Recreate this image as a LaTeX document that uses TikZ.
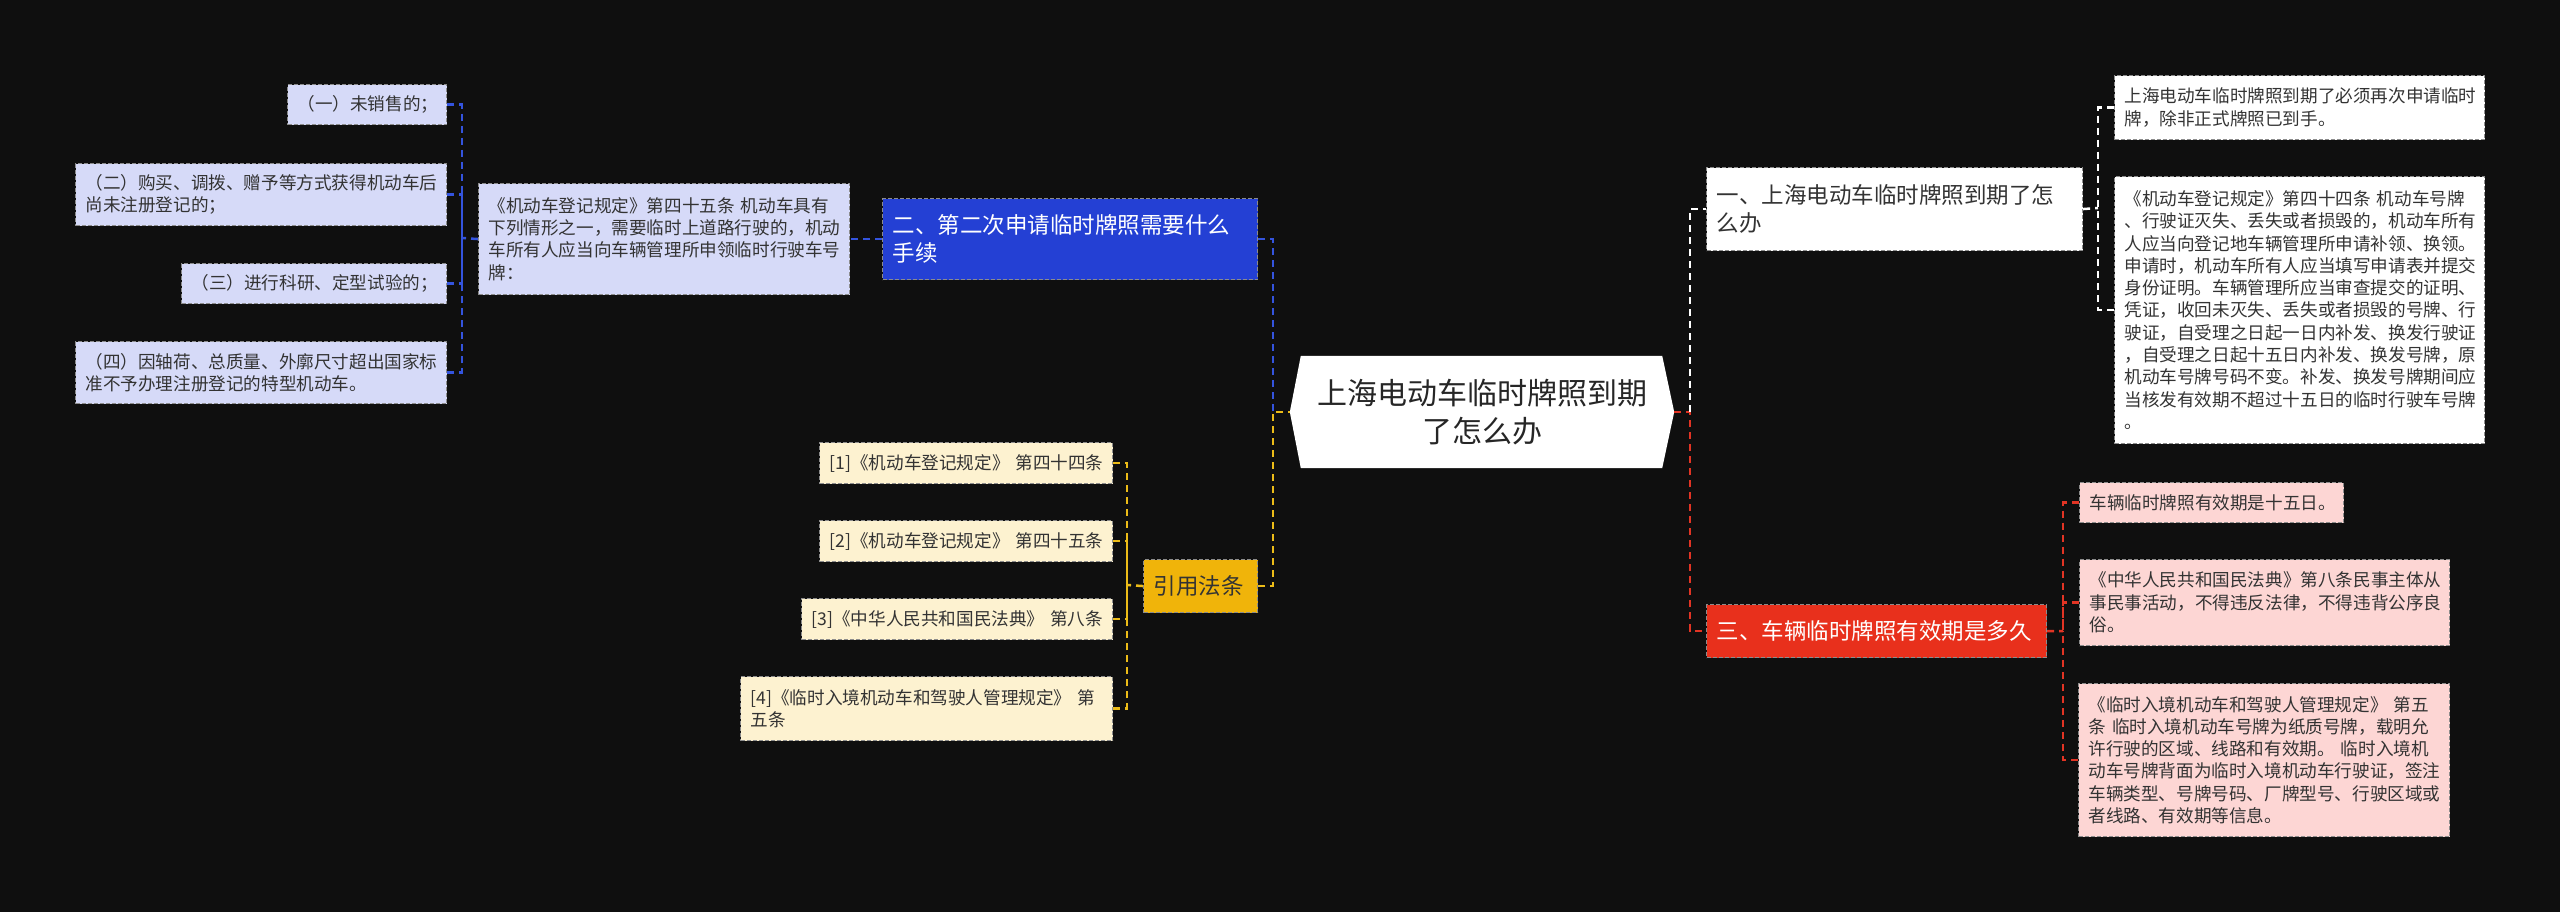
\documentclass[tikz,border=0pt]{standalone}
\usepackage{fontspec}
\setmainfont{Noto Sans CJK SC}
\usetikzlibrary{calc}
\definecolor{bgc}{RGB}{15,15,15}
\definecolor{txt}{RGB}{51,51,51}
\definecolor{mBlue}{RGB}{36,64,212}
\definecolor{lBlue}{RGB}{214,218,248}
\definecolor{kBlue}{RGB}{52,84,222}
\definecolor{mYel}{RGB}{240,180,10}
\definecolor{lYel}{RGB}{253,242,208}
\definecolor{kYel}{RGB}{236,188,24}
\definecolor{mRed}{RGB}{232,48,28}
\definecolor{lRed}{RGB}{253,214,212}
\definecolor{kRed}{RGB}{226,52,36}
\pgfdeclarelayer{canvas}
\pgfdeclarelayer{back}
\pgfsetlayers{canvas,back,main}
\newcommand\boxnode[7]{%
  \pgfmathsetmacro\bw{#5-#3}\pgfmathsetmacro\bh{#6-#4}\pgfmathsetmacro\tw{#5-#3-20}%
  \node[#1, anchor=north west, minimum width=\bw pt, minimum height=\bh pt, text width=\tw pt] (#2) at (#3,#4) {#7};}
\tikzset{
  boxbase/.style={draw=black!45, dash pattern=on 4pt off 2pt, line width=1.1pt, inner xsep=10pt, inner ysep=0pt, align=left},
  leaf/.style={boxbase, text=txt, font=\fontsize{17.6}{22.3}\selectfont},
  mainbox/.style={boxbase, font=\fontsize{22.5}{28.3}\selectfont},
  leafB/.style={leaf, fill=lBlue},
  leafY/.style={leaf, fill=lYel},
  leafR/.style={leaf, fill=lRed},
  leafW/.style={leaf, fill=white},
  mainB/.style={mainbox, fill=mBlue, text=white},
  mainY/.style={mainbox, fill=mYel, text=txt},
  mainR/.style={mainbox, fill=mRed, text=white},
  mainW/.style={mainbox, fill=white, text=txt},
  conn/.style={line width=2.5pt, dash pattern=on 7pt off 5pt},
  cB/.style={conn, draw=kBlue},
  cY/.style={conn, draw=kYel},
  cR/.style={conn, draw=kRed},
  cW/.style={conn, draw=white},
  rootn/.style={minimum width=384pt, minimum height=112pt, inner sep=0pt, align=center, text=black!85, font=\fontsize{30}{38}\selectfont}
}
\begin{document}
\begin{tikzpicture}[x=1pt,y=-1pt]
\begin{pgfonlayer}{canvas}
\fill[bgc] (0,0) rectangle (2560,912);
\end{pgfonlayer}
\useasboundingbox (0,0) rectangle (2560,912);

% root
\node[rootn] (root) at (1482,412) {上海电动车临时牌照到期\\了怎么办};
\begin{pgfonlayer}{back}
\fill[white] (root.west) -- ($(root.north west)+(11,0)$) -- ($(root.north east)+(-12,0)$) -- (root.east) -- ($(root.south east)+(-12,0)$) -- ($(root.south west)+(11,0)$) -- cycle;
\end{pgfonlayer}

% blue branch
\boxnode{mainB}{B}{882}{198}{1257}{279}{二、第二次申请临时牌照需要什么\\手续}
\boxnode{leafB}{b45}{478}{183}{849}{294}{《机动车登记规定》第四十五条~机动车具有\\下列情形之一，需要临时上道路行驶的，机动\\车所有人应当向车辆管理所申领临时行驶车号\\牌：}
\boxnode{leafB}{b1}{287}{84}{446}{124}{（一）未销售的；}
\boxnode{leafB}{b2}{75}{163}{446}{225}{（二）购买、调拨、赠予等方式获得机动车后\\尚未注册登记的；}
\boxnode{leafB}{b3}{181}{263}{446}{303}{（三）进行科研、定型试验的；}
\boxnode{leafB}{b4}{75}{341}{446}{403}{（四）因轴荷、总质量、外廓尺寸超出国家标\\准不予办理注册登记的特型机动车。}

% yellow branch
\boxnode{mainY}{Y}{1143}{559}{1257}{612}{引用法条}
\boxnode{leafY}{y1}{819}{442}{1112}{483}{[1]《机动车登记规定》~第四十四条}
\boxnode{leafY}{y2}{819}{520}{1112}{561}{[2]《机动车登记规定》~第四十五条}
\boxnode{leafY}{y3}{801}{598}{1112}{639}{[3]《中华人民共和国民法典》~第八条}
\boxnode{leafY}{y4}{740}{676}{1112}{740}{[4]《临时入境机动车和驾驶人管理规定》~第\\五条}

% white branch
\boxnode{mainW}{W}{1706}{167}{2082}{250}{一、上海电动车临时牌照到期了怎\\么办}
\boxnode{leafW}{w1}{2114}{75}{2484}{139}{上海电动车临时牌照到期了必须再次申请临时\\牌，除非正式牌照已到手。}
\boxnode{leafW}{w2}{2114}{176}{2484}{443}{《机动车登记规定》第四十四条~机动车号牌\\、行驶证灭失、丢失或者损毁的，机动车所有\\人应当向登记地车辆管理所申请补领、换领。\\申请时，机动车所有人应当填写申请表并提交\\身份证明。车辆管理所应当审查提交的证明、\\凭证，收回未灭失、丢失或者损毁的号牌、行\\驶证，自受理之日起一日内补发、换发行驶证\\，自受理之日起十五日内补发、换发号牌，原\\机动车号牌号码不变。补发、换发号牌期间应\\当核发有效期不超过十五日的临时行驶车号牌\\。}

% red branch
\boxnode{mainR}{R}{1706}{604}{2046}{657}{三、车辆临时牌照有效期是多久}
\boxnode{leafR}{r1}{2079}{482}{2343}{522}{车辆临时牌照有效期是十五日。}
\boxnode{leafR}{r2}{2079}{559}{2449}{645}{《中华人民共和国民法典》第八条民事主体从\\事民事活动，不得违反法律，不得违背公序良\\俗。}
\boxnode{leafR}{r3}{2078}{683}{2449}{836}{《临时入境机动车和驾驶人管理规定》~第五\\条~临时入境机动车号牌为纸质号牌，载明允\\许行驶的区域、线路和有效期。~临时入境机\\动车号牌背面为临时入境机动车行驶证，签注\\车辆类型、号牌号码、厂牌型号、行驶区域或\\者线路、有效期等信息。}

% junctions
\coordinate (jb) at (462,238);
\coordinate (jl) at (1273,412);
\coordinate (jy) at (1127,585);
\coordinate (jr) at (1690,412);
\coordinate (jw) at (2098,208);
\coordinate (jrr) at (2063,631);

% connectors
\begin{pgfonlayer}{back}
\draw[cB] (b1.east) -| (jb);
\draw[cB] (b2.east) -| (jb);
\draw[cB] (b3.east) -| (jb);
\draw[cB] (b4.east) -| (jb);
\draw[cB] (b45.west) -- (jb);
\draw[cB] (B.west) -- (b45.east);
\draw[cB] (B.east) -| (jl);
\draw[cY] (y1.east) -| (jy);
\draw[cY] (y2.east) -| (jy);
\draw[cY] (y3.east) -| (jy);
\draw[cY] (y4.east) -| (jy);
\draw[cY] (Y.west) -- (jy);
\draw[cY] (Y.east) -| (jl) -- (root.west);
\draw[cR] (root.east) -- (jr) |- (R.west);
\draw[cW] (jr) |- (W.west);
\draw[cW] (W.east) -- (jw);
\draw[cW] (w1.west) -| (jw);
\draw[cW] (w2.west) -| (jw);
\draw[cR] (R.east) -- (jrr);
\draw[cR] (r1.west) -| (jrr);
\draw[cR] (r2.west) -| (jrr);
\draw[cR] (r3.west) -| (jrr);
\end{pgfonlayer}
\end{tikzpicture}
\end{document}
